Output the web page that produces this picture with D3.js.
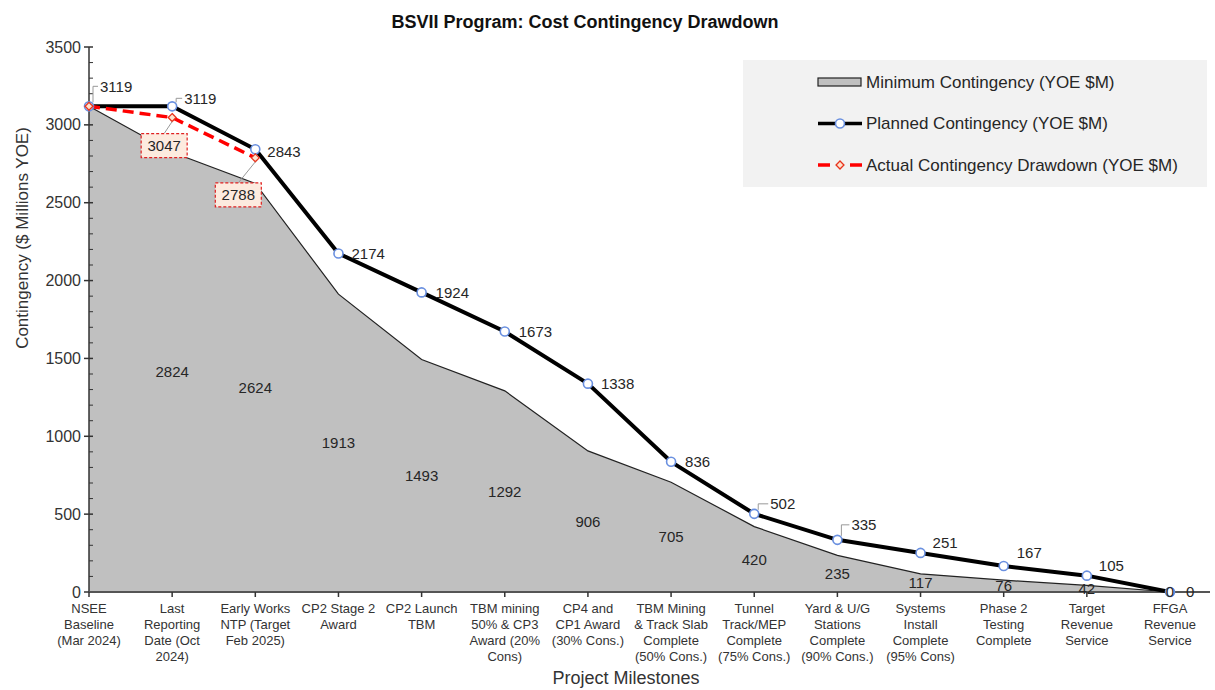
<!DOCTYPE html>
<html>
<head>
<meta charset="utf-8">
<script src="https://cdn.jsdelivr.net/npm/d3@7"></script>
<style>
  body { margin: 0; background: #fff; }
  svg { display: block; font-family: "Liberation Sans", Arial, sans-serif; }
</style>
</head>
<body>
<main></main>
<script>
const w = 1215;
const h = 690;

// milestone labels, one entry per line of the tick label
const milestones = [
    ["NSEE", "Baseline", "(Mar 2024)"],
    ["Last", "Reporting", "Date (Oct", "2024)"],
    ["Early Works", "NTP (Target", "Feb 2025)"],
    ["CP2 Stage 2", "Award"],
    ["CP2 Launch", "TBM"],
    ["TBM mining", "50% & CP3", "Award (20%", "Cons)"],
    ["CP4 and", "CP1 Award", "(30% Cons.)"],
    ["TBM Mining", "& Track Slab", "Complete", "(50% Cons.)"],
    ["Tunnel", "Track/MEP", "Complete", "(75% Cons.)"],
    ["Yard & U/G", "Stations", "Complete", "(90% Cons.)"],
    ["Systems", "Install", "Complete", "(95% Cons)"],
    ["Phase 2", "Testing", "Complete"],
    ["Target", "Revenue", "Service"],
    ["FFGA", "Revenue", "Service"]
];
const minimumContingency = [3119, 2824, 2624, 1913, 1493, 1292, 906, 705, 420, 235, 117, 76, 42, 0];
const plannedContingency = [3119, 3119, 2843, 2174, 1924, 1673, 1338, 836, 502, 335, 251, 167, 105, 0];
const actualDrawdown = [3119, 3047, 2788];
const yTicks = [0, 500, 1000, 1500, 2000, 2500, 3000, 3500];

const keys = milestones.map(m => m.join(" "));

const xScale = d3.scalePoint()
    .domain(keys)
    .range([89, 1170]);

const yScale = d3.scaleLinear()
    .domain([0, 3500])
    .range([592, 47]);

const svg = d3.select("main")
    .append("svg")
    .attr("width", w)
    .attr("height", h);

// title
svg.append("text")
    .attr("x", 585)
    .attr("y", 28)
    .attr("text-anchor", "middle")
    .attr("font-size", 18)
    .attr("font-weight", "bold")
    .attr("fill", "#111")
    .text("BSVII Program: Cost Contingency Drawdown");

// minimum contingency area
const area = d3.area()
    .x((d, i) => xScale(keys[i]))
    .y0(yScale(0))
    .y1(d => yScale(d));

svg.append("path")
    .datum(minimumContingency)
    .attr("d", area)
    .attr("fill", "#c0c0c0")
    .attr("stroke", "none");

svg.append("path")
    .datum(minimumContingency)
    .attr("d", d3.line().x((d, i) => xScale(keys[i])).y(d => yScale(d)))
    .attr("fill", "none")
    .attr("stroke", "#222")
    .attr("stroke-width", 1.2);

// axes
const yAxis = d3.axisLeft(yScale).tickValues(yTicks).tickSize(0).tickPadding(8).tickFormat(d3.format("d"));
const gy = svg.append("g")
    .attr("transform", "translate(89,0)")
    .call(yAxis);
gy.select(".domain").remove();
gy.selectAll("text").attr("font-size", 16).attr("fill", "#333").attr("font-family", "Liberation Sans, Arial, sans-serif");

svg.append("g")
    .selectAll("line")
    .data(d3.range(0, 3501, 100))
    .enter()
    .append("line")
    .attr("x1", d => d % 500 === 0 ? 84 : 89)
    .attr("x2", 93)
    .attr("y1", d => yScale(d))
    .attr("y2", d => yScale(d))
    .attr("stroke", "#333")
    .attr("stroke-width", d => d % 500 === 0 ? 1.5 : 1);

svg.append("line")
    .attr("x1", 89).attr("x2", 89)
    .attr("y1", yScale(3500)).attr("y2", yScale(0))
    .attr("stroke", "#333")
    .attr("stroke-width", 1.5);

svg.append("line")
    .attr("x1", 89).attr("x2", 1210)
    .attr("y1", yScale(0)).attr("y2", yScale(0))
    .attr("stroke", "#555")
    .attr("stroke-width", 2);

const xTicks = svg.append("g")
    .selectAll("g")
    .data(milestones)
    .enter()
    .append("g")
    .attr("transform", (d, i) => "translate(" + xScale(keys[i]) + "," + yScale(0) + ")");

xTicks.append("line")
    .attr("y1", 0)
    .attr("y2", 5)
    .attr("stroke", "#333")
    .attr("stroke-width", 1.5);

xTicks.append("text")
    .attr("text-anchor", "middle")
    .attr("font-size", 13)
    .attr("fill", "#333")
    .selectAll("tspan")
    .data(d => d)
    .enter()
    .append("tspan")
    .attr("x", 0)
    .attr("y", (d, i) => 21 + i * 16)
    .text(d => d);

// axis titles
svg.append("text")
    .attr("x", 626)
    .attr("y", 684)
    .attr("text-anchor", "middle")
    .attr("font-size", 18)
    .attr("fill", "#333")
    .text("Project Milestones");

svg.append("text")
    .attr("transform", "translate(28,238) rotate(-90)")
    .attr("text-anchor", "middle")
    .attr("font-size", 17)
    .attr("fill", "#333")
    .text("Contingency ($ Millions YOE)");

// planned contingency line
const line = d3.line()
    .x((d, i) => xScale(keys[i]))
    .y(d => yScale(d));

svg.append("path")
    .datum(plannedContingency)
    .attr("d", line)
    .attr("fill", "none")
    .attr("stroke", "#000")
    .attr("stroke-width", 4)
    .attr("stroke-linejoin", "round");

// actual drawdown line
svg.append("path")
    .datum(actualDrawdown)
    .attr("d", line)
    .attr("fill", "none")
    .attr("stroke", "#ff0000")
    .attr("stroke-width", 3.5)
    .attr("stroke-dasharray", "11,6");

svg.append("g")
    .selectAll("circle")
    .data(plannedContingency)
    .enter()
    .append("circle")
    .attr("cx", (d, i) => xScale(keys[i]))
    .attr("cy", d => yScale(d))
    .attr("r", 4.5)
    .attr("fill", "#fff")
    .attr("stroke", "#6a90e0")
    .attr("stroke-width", 1.6);

const diamond = d3.symbol().type(d3.symbolDiamond2).size(40);

svg.append("g")
    .selectAll("path")
    .data(actualDrawdown)
    .enter()
    .append("path")
    .attr("d", diamond)
    .attr("transform", (d, i) => "translate(" + xScale(keys[i]) + "," + yScale(d) + ")")
    .attr("fill", "#fde3cf")
    .attr("stroke", "#e8331c")
    .attr("stroke-width", 1.3);

// area labels sit half way up the area
svg.append("g")
    .selectAll("text")
    .data(minimumContingency)
    .enter()
    .filter((d, i) => i > 0)
    .append("text")
    .attr("x", (d, i) => xScale(keys[i + 1]))
    .attr("y", d => yScale(d / 2))
    .attr("dy", "0.35em")
    .attr("text-anchor", "middle")
    .attr("font-size", 15)
    .attr("fill", "#262626")
    .text(d => d);

// planned labels: [dx, dy, leader?]
const plannedNudge = [
    [11, -20, true], [12, -8, true], [12, 2, false], [13, 0, false], [14, 0, false],
    [14, 0, false], [13, 0, false], [14, 0, false], [16, -10, true], [14, -15, true],
    [12, -10, false], [13, -13, false], [12, -10, false], [16, 0, false]
];

svg.append("g")
    .selectAll("g")
    .data(plannedContingency)
    .enter()
    .append("g")
    .attr("transform", (d, i) => "translate(" + xScale(keys[i]) + "," + yScale(d) + ")")
    .each(function (d, i) {
        const n = plannedNudge[i];
        const g = d3.select(this);
        if (n[2]) {
            g.append("polyline")
                .attr("points", [[4, -4], [4, n[1]], [n[0] - 2, n[1]]].map(p => p.join(",")).join(" "))
                .attr("fill", "none")
                .attr("stroke", "#999")
                .attr("stroke-width", 1);
        }
        g.append("text")
            .attr("x", n[0])
            .attr("y", n[1])
            .attr("dy", "0.35em")
            .attr("font-size", 15)
            .attr("fill", "#262626")
            .text(d);
    });

// actual labels in dashed boxes, below their points
const actualBoxes = [null, [-8, 28], [-17, 37]];

actualDrawdown.forEach((d, i) => {
    const b = actualBoxes[i];
    if (!b) return;
    const x = xScale(keys[i]);
    const y = yScale(d);
    const g = svg.append("g").attr("transform", "translate(" + (x + b[0]) + "," + (y + b[1]) + ")");
    g.append("line")
        .attr("x1", -b[0]).attr("y1", -b[1] + 4)
        .attr("x2", 0).attr("y2", -12)
        .attr("stroke", "#999")
        .attr("stroke-width", 1);
    g.append("rect")
        .attr("x", -23).attr("y", -12)
        .attr("width", 46).attr("height", 24)
        .attr("fill", "#fdebdf")
        .attr("stroke", "#e02020")
        .attr("stroke-width", 1.2)
        .attr("stroke-dasharray", "3,2");
    g.append("text")
        .attr("text-anchor", "middle")
        .attr("dy", "0.35em")
        .attr("font-size", 15)
        .attr("fill", "#262626")
        .text(d);
});

// legend
const legend = svg.append("g");
legend.append("rect")
    .attr("x", 743).attr("y", 60)
    .attr("width", 464).attr("height", 127)
    .attr("fill", "#f2f2f2");

const legendItems = ["Minimum Contingency (YOE $M)", "Planned Contingency (YOE $M)", "Actual Contingency Drawdown (YOE $M)"];
const ly = d3.scalePoint().domain(legendItems).range([82, 165]);

legend.append("rect")
    .attr("x", 818).attr("y", ly(legendItems[0]) - 4)
    .attr("width", 43).attr("height", 8)
    .attr("fill", "#c0c0c0")
    .attr("stroke", "#222")
    .attr("stroke-width", 1.2);

legend.append("line")
    .attr("x1", 818).attr("x2", 862)
    .attr("y1", ly(legendItems[1])).attr("y2", ly(legendItems[1]))
    .attr("stroke", "#000").attr("stroke-width", 3.5);
legend.append("circle")
    .attr("cx", 840).attr("cy", ly(legendItems[1]))
    .attr("r", 4.5)
    .attr("fill", "#fff").attr("stroke", "#6a90e0").attr("stroke-width", 1.6);

legend.append("line")
    .attr("x1", 818).attr("x2", 862)
    .attr("y1", ly(legendItems[2])).attr("y2", ly(legendItems[2]))
    .attr("stroke", "#ff0000").attr("stroke-width", 3.5)
    .attr("stroke-dasharray", "12,20");
legend.append("path")
    .attr("d", diamond)
    .attr("transform", "translate(840," + ly(legendItems[2]) + ")")
    .attr("fill", "#fde3cf").attr("stroke", "#e8331c").attr("stroke-width", 1.3);

legend.selectAll("text.item")
    .data(legendItems)
    .enter()
    .append("text")
    .attr("class", "item")
    .attr("x", 866)
    .attr("y", d => ly(d))
    .attr("dy", "0.35em")
    .attr("font-size", 17)
    .attr("fill", "#262626")
    .text(d => d);
</script>
</body>
</html>
